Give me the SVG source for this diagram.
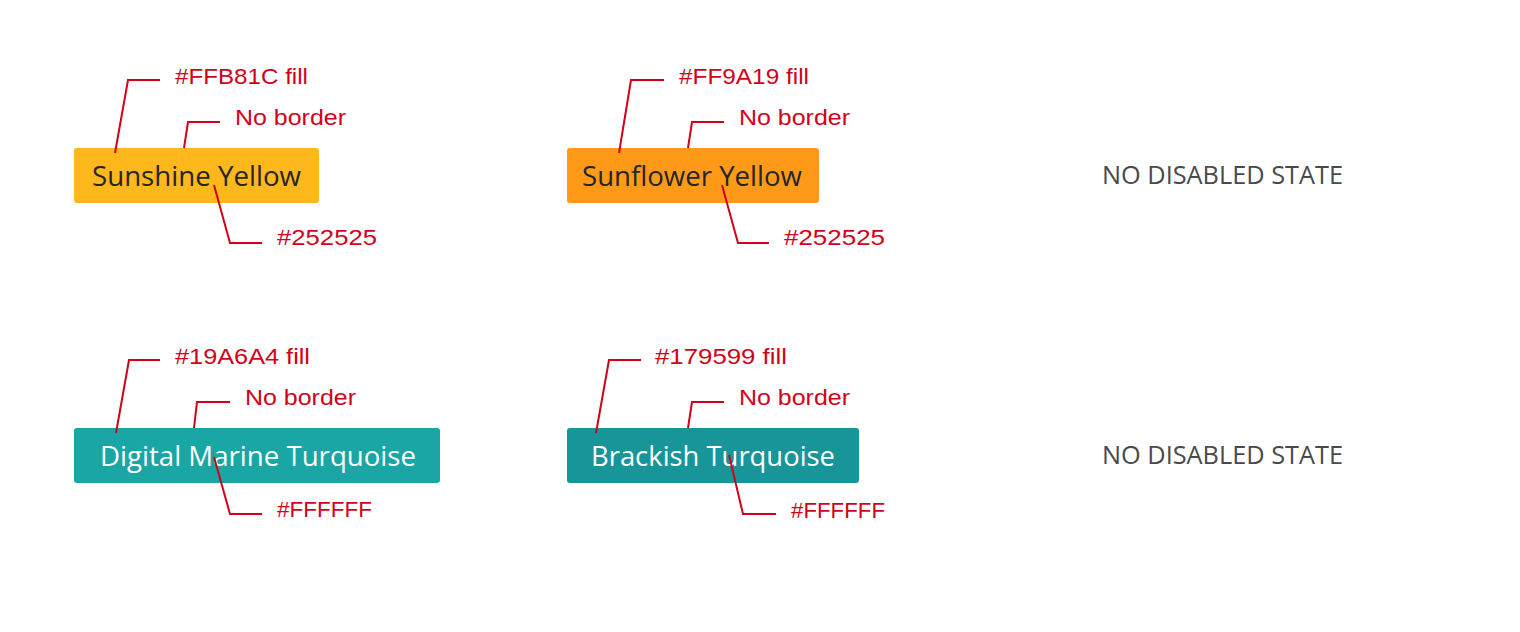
<svg xmlns="http://www.w3.org/2000/svg" width="1520" height="632" viewBox="0 0 1520 632">
<style>
.btn{font-family:"Open Sans","Noto Sans",sans-serif;font-size:27px}
.dark{fill:#252525}
.light{fill:#FFFFFF}
.note{font-family:"Liberation Sans",Arial,sans-serif;font-size:22px;fill:#D0021B}
.lead{fill:none;stroke:#D0021B;stroke-width:2}
.state{font-family:"Open Sans","Noto Sans",sans-serif;font-size:25px;fill:#4A4A4A}
</style>
<rect width="1520" height="632" fill="#FFFFFF"/>
<g id="node-sunshine">
<rect x="74" y="148" width="245" height="55" rx="3" fill="#FFB81C"/>
<text class="btn dark" x="92" y="186" textLength="209" lengthAdjust="spacingAndGlyphs">Sunshine Yellow</text>
</g>
<g id="node-sunflower">
<rect x="567" y="148" width="252" height="55" rx="3" fill="#FF9A19"/>
<text class="btn dark" x="582" y="186" textLength="220" lengthAdjust="spacingAndGlyphs">Sunflower Yellow</text>
</g>
<g id="node-digital">
<rect x="74" y="428" width="366" height="55" rx="3" fill="#19A6A4"/>
<text class="btn light" x="100" y="466" textLength="316" lengthAdjust="spacingAndGlyphs">Digital Marine Turquoise</text>
</g>
<g id="node-brackish">
<rect x="567" y="428" width="292" height="55" rx="3" fill="#179599"/>
<text class="btn light" x="591" y="466" textLength="244" lengthAdjust="spacingAndGlyphs">Brackish Turquoise</text>
</g>
<g id="connectors">
<polyline class="lead" points="115,153 128,80 160,80"/>
<polyline class="lead" points="184,148 188,122 220,122"/>
<polyline class="lead" points="214,185 230,243 262,243"/>
<polyline class="lead" points="619,153 631,80 664,80"/>
<polyline class="lead" points="688,148 692,122 724,122"/>
<polyline class="lead" points="722,185 738,243 769,243"/>
<polyline class="lead" points="116,433 129,360 160,360"/>
<polyline class="lead" points="194,428 197,402 230,402"/>
<polyline class="lead" points="214,457 230,514 262,514"/>
<polyline class="lead" points="596,433 609,360 641,360"/>
<polyline class="lead" points="688,428 692,402 724,402"/>
<polyline class="lead" points="729,455 743,514 776,514"/>
</g>
<g id="labels">
<text class="note" x="175" y="84" textLength="133" lengthAdjust="spacingAndGlyphs">#FFB81C fill</text>
<text class="note" x="235" y="125" textLength="111" lengthAdjust="spacingAndGlyphs">No border</text>
<text class="note" x="277" y="245" textLength="100" lengthAdjust="spacingAndGlyphs">#252525</text>
<text class="note" x="679" y="84" textLength="130" lengthAdjust="spacingAndGlyphs">#FF9A19 fill</text>
<text class="note" x="739" y="125" textLength="111" lengthAdjust="spacingAndGlyphs">No border</text>
<text class="note" x="784" y="245" textLength="101" lengthAdjust="spacingAndGlyphs">#252525</text>
<text class="note" x="175" y="364" textLength="135" lengthAdjust="spacingAndGlyphs">#19A6A4 fill</text>
<text class="note" x="245" y="405" textLength="111" lengthAdjust="spacingAndGlyphs">No border</text>
<text class="note" x="277" y="517" textLength="95" lengthAdjust="spacingAndGlyphs">#FFFFFF</text>
<text class="note" x="655" y="364" textLength="132" lengthAdjust="spacingAndGlyphs">#179599 fill</text>
<text class="note" x="739" y="405" textLength="111" lengthAdjust="spacingAndGlyphs">No border</text>
<text class="note" x="791" y="518" textLength="94" lengthAdjust="spacingAndGlyphs">#FFFFFF</text>
</g>
<g id="state-1">
<text class="state" x="1102" y="184" textLength="241" lengthAdjust="spacingAndGlyphs">NO DISABLED STATE</text>
</g>
<g id="state-2">
<text class="state" x="1102" y="464" textLength="241" lengthAdjust="spacingAndGlyphs">NO DISABLED STATE</text>
</g>
</svg>
